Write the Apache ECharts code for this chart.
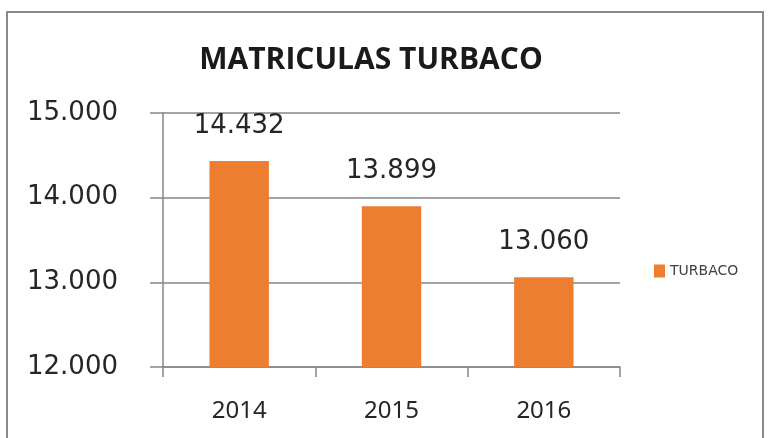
<!DOCTYPE html>
<html>
<head>
<meta charset="utf-8">
<script src="https://cdn.jsdelivr.net/npm/echarts@6/dist/echarts.min.js"></script>
<style>
  html, body { margin: 0; padding: 0; background: #fff; }
  #frame {
    position: absolute; left: 6px; top: 11px; width: 758px; height: 440px;
    border: 2px solid #8a8a8a; box-sizing: border-box;
  }
  #chart { position: absolute; left: 0; top: 0; width: 768px; height: 438px; }
</style>
</head>
<body>
<div id="frame"></div>
<div id="chart"></div>
<script>
// Data
const years = ['2014', '2015', '2016']
const matriculas = [14432, 13899, 13060]
const yMin = 12000
const yMax = 15000
const yStep = 1000

function fmtThousands(v) {
  return String(v).replace(/\B(?=(\d{3})+(?!\d))/g, '.')
}

const chart = echarts.init(document.getElementById('chart'))

chart.setOption({
  backgroundColor: 'transparent',
  animation: false,
  title: {
    text: 'MATRICULAS TURBACO',
    left: 366,
    top: 40,
    textAlign: 'center',
    textStyle: {
      fontFamily: 'Open Sans',
      fontWeight: 'bold',
      fontSize: 30,
      color: '#1a1a1a'
    }
  },
  legend: {
    data: ['TURBACO'],
    left: 649,
    top: 259,
    icon: 'rect',
    itemWidth: 11,
    itemHeight: 13,
    itemGap: 4,
    textStyle: { fontFamily: 'DejaVu Sans', fontSize: 14, color: '#404040' }
  },
  grid: { left: 163, right: 148, top: 113, bottom: 71 },
  xAxis: {
    type: 'category',
    data: years,
    axisLine: { lineStyle: { color: '#868686', width: 1.5 } },
    axisTick: { show: true, length: 10, lineStyle: { color: '#868686', width: 1.5 } },
    axisLabel: {
      margin: 32,
      fontFamily: 'Noto Sans',
      fontSize: 24,
      color: '#262626'
    }
  },
  yAxis: {
    type: 'value',
    min: yMin,
    max: yMax,
    interval: yStep,
    axisLine: { show: true, lineStyle: { color: '#868686', width: 1.5 } },
    axisTick: { show: true, length: 13, lineStyle: { color: '#868686', width: 1.5 } },
    splitLine: { show: true, lineStyle: { color: '#868686', width: 1.5 } },
    axisLabel: {
      margin: 45,
      fontFamily: 'DejaVu Sans',
      fontSize: 26,
      color: '#262626',
      formatter: v => fmtThousands(v)
    }
  },
  series: [{
    name: 'TURBACO',
    type: 'bar',
    data: matriculas,
    barWidth: '39%',
    itemStyle: { color: '#ED7D31' },
    label: {
      show: true,
      position: 'top',
      distance: 22,
      fontFamily: 'DejaVu Sans',
      fontSize: 26,
      color: '#262626',
      formatter: p => fmtThousands(p.value)
    }
  }]
})
</script>
</body>
</html>
